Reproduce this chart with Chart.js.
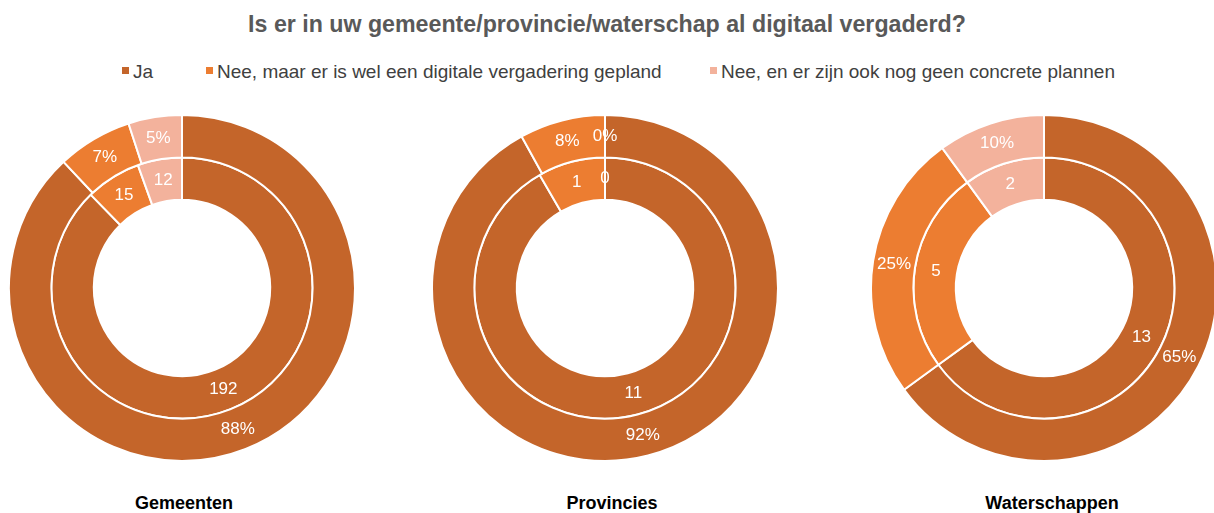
<!DOCTYPE html>
<html>
<head>
<meta charset="utf-8">
<script src="https://cdn.jsdelivr.net/npm/chart.js@4/dist/chart.umd.min.js"></script>
<style>
  html, body { margin: 0; padding: 0; background: #fff; }
  #wrap { position: relative; width: 1214px; height: 513px; overflow: hidden; background: #fff;
          font-family: "Liberation Sans", Arial, Helvetica, sans-serif; }
  #title { position: absolute; left: 0; width: 1214px; top: 11px; text-align: center;
           font-weight: bold; font-size: 23.2px; color: #595959; white-space: nowrap; }
  #legend { position: absolute; top: 61px; left: 0; width: 1214px; height: 24px; }
  .li { position: absolute; top: 0; font-size: 19px; color: #404040; white-space: nowrap; line-height: 22px; }
  .li span.sw { display: inline-block; width: 7px; height: 7px; margin-right: 4px; vertical-align: 4px; }
  .cv { position: absolute; }
  .lab { position: absolute; top: 493px; font-weight: bold; font-size: 18px; color: #000; white-space: nowrap;
         transform: translateX(-50%); }
</style>
</head>
<body>
<div id="wrap">
  <div id="title">Is er in uw gemeente/provincie/waterschap al digitaal vergaderd?</div>
  <div id="legend"></div>
  <canvas id="c0" class="cv"></canvas>
  <canvas id="c1" class="cv"></canvas>
  <canvas id="c2" class="cv"></canvas>
  <div id="labs"></div>
</div>
<script>
// ---- data ----
const categories = ["Ja", "Nee, maar er is wel een digitale vergadering gepland", "Nee, en er zijn ook nog geen concrete plannen"];
const groups = ["Gemeenten", "Provincies", "Waterschappen"];
const percentGemeenten = [88, 7, 5];
const countGemeenten = [192, 15, 12];
const percentProvincies = [92, 8, 0];
const countProvincies = [11, 1, 0];
const percentWaterschappen = [65, 25, 10];
const countWaterschappen = [13, 5, 2];
const colors = ["#C4652A", "#EC7D31", "#F3B29C"];

// ---- layout ----
const centersX = [182, 605, 1044];
const centerY = 288;
const size = 348;
const legendX = [122, 206, 710];
const labelX = [184, 612, 1052];

const legend = document.getElementById('legend');
categories.forEach((c, i) => {
  const d = document.createElement('div');
  d.className = 'li';
  d.style.left = legendX[i] + 'px';
  d.innerHTML = '<span class="sw" style="background:' + colors[i] + '"></span>';
  d.appendChild(document.createTextNode(c));
  legend.appendChild(d);
});
const labs = document.getElementById('labs');
groups.forEach((g, i) => {
  const d = document.createElement('div');
  d.className = 'lab';
  d.style.left = labelX[i] + 'px';
  d.textContent = g;
  labs.appendChild(d);
});

const arcLabels = {
  id: 'arcLabels',
  afterDatasetsDraw(chart) {
    const ctx = chart.ctx;
    ctx.save();
    ctx.fillStyle = '#ffffff';
    ctx.font = '17px "Liberation Sans", Arial, sans-serif';
    ctx.textAlign = 'center';
    ctx.textBaseline = 'middle';
    chart.data.datasets.forEach((ds, di) => {
      const meta = chart.getDatasetMeta(di);
      meta.data.forEach((arc, i) => {
        const p = arc.tooltipPosition();
        ctx.fillText(ds.labelsText[i], p.x, p.y);
      });
    });
    ctx.restore();
  }
};

const pairs = [
  [percentGemeenten, countGemeenten],
  [percentProvincies, countProvincies],
  [percentWaterschappen, countWaterschappen]
];

pairs.forEach((pr, k) => {
  const cv = document.getElementById('c' + k);
  cv.style.left = (centersX[k] - size / 2) + 'px';
  cv.style.top = (centerY - size / 2) + 'px';
  cv.style.width = size + 'px';
  cv.style.height = size + 'px';
  cv.width = size; cv.height = size;
  new Chart(cv, {
    type: 'doughnut',
    data: {
      labels: categories,
      datasets: [
        { data: pr[0], backgroundColor: colors, borderColor: '#ffffff', borderWidth: 2,
          labelsText: pr[0].map(v => v + '%') },
        { data: pr[1], backgroundColor: colors, borderColor: '#ffffff', borderWidth: 2,
          labelsText: pr[1].map(v => String(v)) }
      ]
    },
    options: {
      responsive: false,
      animation: false,
      cutout: '51%',
      layout: { padding: 0 },
      plugins: { legend: { display: false }, tooltip: { enabled: false }, title: { display: false } }
    },
    plugins: [arcLabels]
  });
});
</script>
</body>
</html>
